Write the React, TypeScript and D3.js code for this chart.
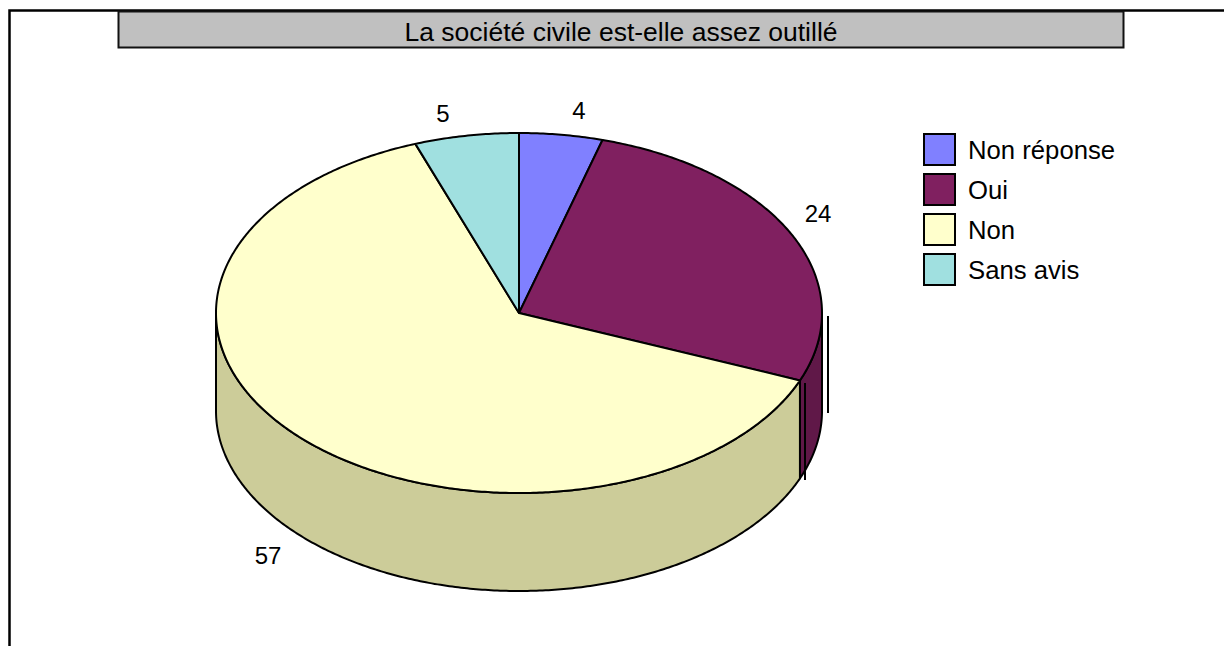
import React from "react";
import * as d3 from "d3";

const title = "La société civile est-elle assez outillé";
const categories = ["Non réponse", "Oui", "Non", "Sans avis"];
const values = [4, 24, 57, 5];
const topColors = ["#8080ff", "#802060", "#ffffcc", "#a0e0e0"];
const sideColors = ["#6060c0", "#601848", "#cccc99", "#78a8a8"];
const labelPos = [
  [579, 110],
  [818, 213],
  [268, 555],
  [443, 113],
];

const W = 1224;
const H = 646;
const cx = 519;
const cy = 313;
const rx = 303;
const ry = 180;
const depth = 98;

const pt = (a: number, dy = 0): [number, number] => [
  cx + rx * Math.sin(a),
  cy - ry * Math.cos(a) + dy,
];

function arcPoints(a0: number, a1: number, dy = 0): [number, number][] {
  const n = Math.max(2, Math.ceil(Math.abs(a1 - a0) / 0.01));
  const out: [number, number][] = [];
  for (let i = 0; i <= n; i++) out.push(pt(a0 + ((a1 - a0) * i) / n, dy));
  return out;
}

export default function App() {
  const pie = d3.pie<number>().sort(null).value((d) => d)(values);
  const line = d3.line();

  const sides = pie
    .map((p, i) => {
      const s = Math.max(p.startAngle, Math.PI / 2);
      const e = Math.min(p.endAngle, (3 * Math.PI) / 2);
      if (s >= e) return null;
      const pts = [...arcPoints(s, e), ...arcPoints(e, s, depth)];
      return { i, d: line(pts) + "Z" };
    })
    .filter(Boolean) as { i: number; d: string }[];

  const tops = pie.map((p, i) => {
    const pts = [[cx, cy] as [number, number], ...arcPoints(p.startAngle, p.endAngle)];
    return { i, d: line(pts) + "Z" };
  });

  return (
    <svg width={W} height={H} style={{ display: "block", position: "absolute", left: 0, top: 0 }}>
      <rect x={0} y={0} width={W} height={H} fill="#fff" />
      {/* frame */}
      <path d={`M9.5,${H} V10.5 H${W}`} fill="none" stroke="#000" strokeWidth={2.5} />
      {/* title */}
      <rect x={118.5} y={11.5} width={1005} height={36} fill="#c0c0c0" stroke="#111" strokeWidth={2} />
      <text
        x={621}
        y={41}
        textAnchor="middle"
        fontFamily="Liberation Sans, Arial, sans-serif"
        fontSize={26.5}
        fill="#000"
      >
        {title}
      </text>
      {/* sides */}
      {sides.map((s) => (
        <path key={"s" + s.i} d={s.d} fill={sideColors[s.i]} stroke="#000" strokeWidth={2} strokeLinejoin="round" />
      ))}
      {/* tops */}
      {tops.map((t) => (
        <path key={"t" + t.i} d={t.d} fill={topColors[t.i]} stroke="#000" strokeWidth={2} strokeLinejoin="round" />
      ))}
      {/* artifact leader lines */}
      <line x1={828} y1={316} x2={828} y2={413} stroke="#000" strokeWidth={2} />
      <line x1={805} y1={383} x2={805} y2={480} stroke="#000" strokeWidth={2} />
      {/* value labels */}
      {values.map((v, i) => (
        <text
          key={"l" + i}
          x={labelPos[i][0]}
          y={labelPos[i][1] + 9}
          textAnchor="middle"
          fontFamily="Liberation Sans, Arial, sans-serif"
          fontSize={24}
          fill="#000"
        >
          {v}
        </text>
      ))}
      {/* legend */}
      {categories.map((c, i) => (
        <g key={"g" + i} transform={`translate(924,${134 + i * 40})`}>
          <rect x={0} y={0} width={31} height={31} fill={topColors[i]} stroke="#000" strokeWidth={2} />
          <text
            x={44}
            y={25}
            fontFamily="Liberation Sans, Arial, sans-serif"
            fontSize={25.7}
            fill="#000"
          >
            {c}
          </text>
        </g>
      ))}
    </svg>
  );
}
